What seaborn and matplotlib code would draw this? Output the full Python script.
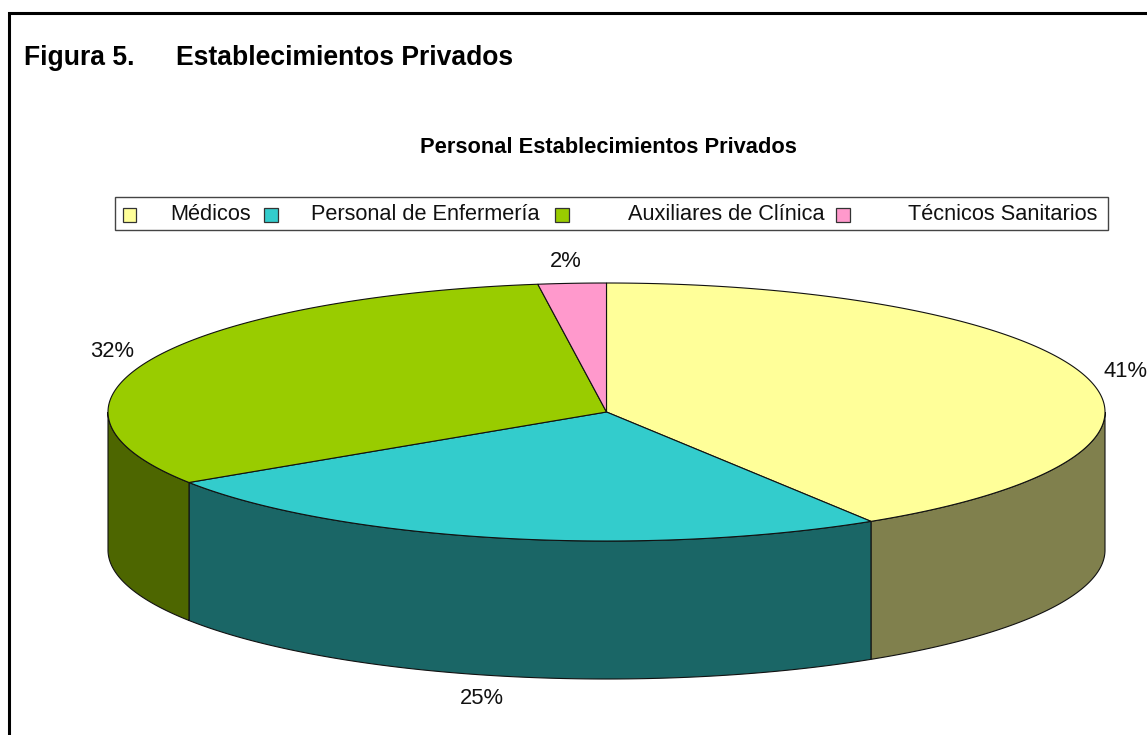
import numpy as np
import pandas as pd
import matplotlib
matplotlib.use("Agg")
import matplotlib.pyplot as plt
from matplotlib.patches import Polygon, Rectangle
import seaborn as sns

categories = ["Médicos", "Personal de Enfermería", "Auxiliares de Clínica", "Técnicos Sanitarios"]
values = [41.1, 24.7, 32.0, 2.2]
top_colors = ["#FFFF99", "#33CCCC", "#99CC00", "#FF99CC"]
side_colors = ["#80804D", "#1A6666", "#4D6600", "#804D66"]
figure_label = "Figura 5."
figure_title = "Establecimientos Privados"
chart_title = "Personal Establecimientos Privados"

sns.set_theme(style="white")
plt.rcParams["font.family"] = ["Liberation Sans", "DejaVu Sans"]

df = pd.DataFrame({"cat": categories, "val": values, "top": top_colors, "side": side_colors})
df["start"] = df["val"].cumsum().shift(fill_value=0) / df["val"].sum() * 2 * np.pi
df["end"] = df["val"].cumsum() / df["val"].sum() * 2 * np.pi

fig = plt.figure(figsize=(11.47, 7.35), dpi=100, facecolor="white")
ax = fig.add_axes([0, 0, 1, 1])
ax.set_xlim(0, 1147)
ax.set_ylim(735, 0)
ax.axis("off")

CX, CY, RX, RY, DEPTH = 606.5, 412.0, 498.5, 129.0, 138.0
EDGE = "#111111"


def pts(theta, dy=0.0):
    return np.column_stack([CX + RX * np.sin(theta), CY - RY * np.cos(theta) + dy])


# walls (front half only)
for _, r in df.iterrows():
    a, b = max(r["start"], np.pi / 2), min(r["end"], 3 * np.pi / 2)
    if b <= a:
        continue
    t = np.linspace(a, b, 200)
    ax.add_patch(Polygon(np.vstack([pts(t), pts(t[::-1], DEPTH)]), closed=True,
                         facecolor=r["side"], edgecolor=EDGE, linewidth=0.8, zorder=2))

# top faces
for _, r in df.iterrows():
    t = np.linspace(r["start"], r["end"], 300)
    ax.add_patch(Polygon(np.vstack([[CX, CY], pts(t)]), closed=True,
                         facecolor=r["top"], edgecolor=EDGE, linewidth=0.8, zorder=3))

# percentage labels
label_xy = [(1125, 371), (482, 698), (112, 351), (566, 261)]
for v, (x, y) in zip(values, label_xy):
    ax.text(x, y, f"{round(v)}%", fontsize=15.8, color="#111111", ha="center", va="center", zorder=5)

# frame
ax.plot([9, 9, 1147], [735, 12.5, 12.5], color="black", linewidth=2.2, solid_joinstyle="miter", zorder=6)

# titles
ax.text(24, 57.5, figure_label, fontsize=19.1, fontweight="bold", color="black", ha="left", va="center")
ax.text(175.5, 57.5, figure_title, fontsize=19.1, fontweight="bold", color="black", ha="left", va="center")
ax.text(608, 147, chart_title, fontsize=15.75, fontweight="bold", color="black", ha="center", va="center")

# legend
ax.add_patch(Rectangle((115, 197), 993, 33, facecolor="white", edgecolor="#444444", linewidth=1.0, zorder=4))
swatch_x = [122.5, 264, 555, 836]
text_x = [170, 311, 628, 908]
for sx, tx, c, name in zip(swatch_x, text_x, top_colors, categories):
    ax.add_patch(Rectangle((sx, 207.5), 13.5, 14, facecolor=c, edgecolor="#333333", linewidth=0.9, zorder=5))
    ax.text(tx, 214.5, name, fontsize=15.7, color="#111111", ha="left", va="center", zorder=5)

fig.savefig("out.png", dpi=100, facecolor="white")
